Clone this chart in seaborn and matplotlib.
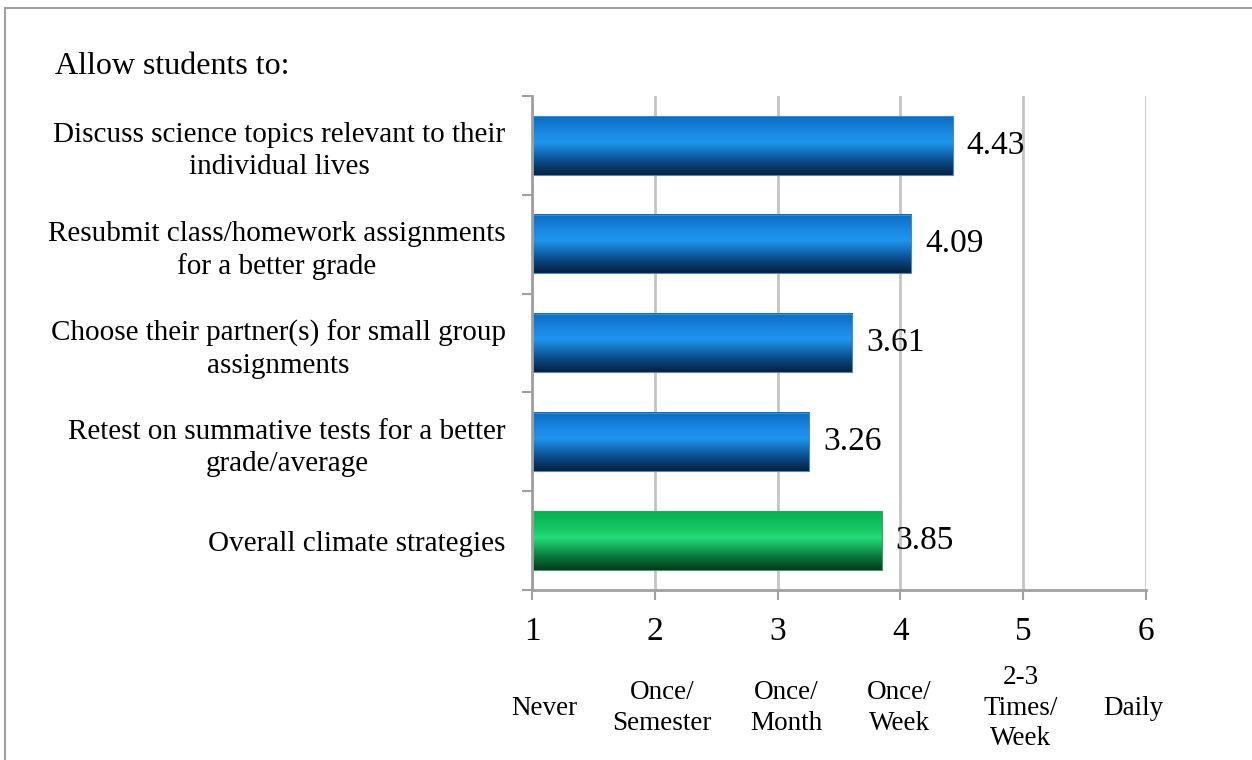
import numpy as np
import pandas as pd
import seaborn as sns
import matplotlib.pyplot as plt
from matplotlib.colors import LinearSegmentedColormap
from matplotlib.patches import Rectangle

# chart data
strategies = ["Discuss science topics relevant to their\nindividual lives",
              "Resubmit class/homework assignments\nfor a better grade",
              "Choose their partner(s) for small group\nassignments",
              "Retest on summative tests for a better\ngrade/average",
              "Overall climate strategies"]
means = [4.43, 4.09, 3.61, 3.26, 3.85]
is_overall = [False, False, False, False, True]
scale_ticks = [1, 2, 3, 4, 5, 6]
scale_labels = ["Never", "Once/\nSemester", "Once/\nMonth", "Once/\nWeek", "2-3\nTimes/\nWeek", "Daily"]
scale_label_pos = [1.1, 2.06, 3.07, 3.99, 4.98, 5.9]

df = pd.DataFrame({"strategy": strategies, "mean": means, "overall": is_overall})

sns.set_style("white")
plt.rcParams["font.family"] = ["Liberation Serif", "DejaVu Serif"]
plt.rcParams["text.color"] = "black"
plt.rcParams["xtick.color"] = "black"
plt.rcParams["ytick.color"] = "black"

fig = plt.figure(figsize=(12.52, 7.6), dpi=100)
ax = fig.add_axes([0.4249, 0.2237, 0.4904, 0.6500])

# bars extend from 1 (Never), so plot the offset from 1 with left=1
df["offset"] = df["mean"] - 1
sns.barplot(data=df, y="strategy", x="offset", orient="h", width=0.59,
            color="#1a7fd0", ax=ax, zorder=3)
for p in ax.patches:
    p.set_x(1)

blue = LinearSegmentedColormap.from_list(
    "blue", [(0, "#06203f"), (0.25, "#0a4f8f"), (0.55, "#1f95ee"), (0.7, "#1c8ae6"), (1, "#0a6cc0")])
green = LinearSegmentedColormap.from_list(
    "green", [(0, "#03381c"), (0.25, "#0b8040"), (0.55, "#22dd78"), (0.7, "#17c765"), (1, "#05b050")])

grad = np.linspace(0, 1, 256).reshape(-1, 1)
for p, ov in zip(ax.patches, df["overall"]):
    x0, y0 = p.get_x(), p.get_y()
    w, h = p.get_width(), p.get_height()
    cmap = green if ov else blue
    ax.imshow(grad[::-1], cmap=cmap, aspect="auto", extent=[x0, x0 + w, y0 + h, y0],
              origin="upper", zorder=3.5)
    p.set_facecolor("none")
    p.set_edgecolor("#4a8ac0" if not ov else "#3aa060")
    p.set_linewidth(0.8)
    p.set_zorder(4)

for i, v in enumerate(df["mean"]):
    ax.text(v + 0.11, i, f"{v:.2f}", va="center", ha="left", fontsize=24, zorder=5)

ax.set_xlim(1, 6)
ax.set_ylim(4.5, -0.5)
ax.set_xticks(scale_ticks)
ax.set_xticklabels([str(t) for t in scale_ticks], fontsize=24)
ax.tick_params(axis="x", direction="out", length=7, width=1.5, color="#a0a0a0", pad=12,
               bottom=True, labelcolor="black")
ax.set_yticks(range(len(strategies)))
ax.set_yticklabels(strategies, fontsize=21, ha="right", multialignment="center", linespacing=1.3)
ax.tick_params(axis="y", length=0, pad=19, labelcolor="black")
ax.set_yticks(np.arange(-0.5, len(strategies), 1), minor=True)
ax.tick_params(axis="y", which="minor", direction="out", length=7, width=1.5, color="#a0a0a0", left=True)
ax.set_xlabel("")
ax.set_ylabel("")

ax.grid(axis="x", color="#c4c4c4", linewidth=2, zorder=0)
ax.grid(axis="y", visible=False)
ax.set_axisbelow(True)
for s in ["top", "right"]:
    ax.spines[s].set_visible(False)
for s in ["left", "bottom"]:
    ax.spines[s].set_color("#a0a0a0")
    ax.spines[s].set_linewidth(2)
    ax.spines[s].set_zorder(6)

for x, lab in zip(scale_label_pos, scale_labels):
    ax.text(x, -0.239, lab, transform=ax.get_xaxis_transform(), ha="center", va="center",
            fontsize=19.5, linespacing=1.3)

fig.text(55 / 1252, 1 - 66 / 760, "Allow students to:", fontsize=23, ha="left", va="center")

# outer frame
fig.patches.append(Rectangle((5 / 1252, -0.05), 1.2, 1 - 8 / 760 + 0.05, transform=fig.transFigure,
                             fill=False, edgecolor="#a0a0a0", linewidth=1.5))

fig.savefig("out.png", dpi=100)
